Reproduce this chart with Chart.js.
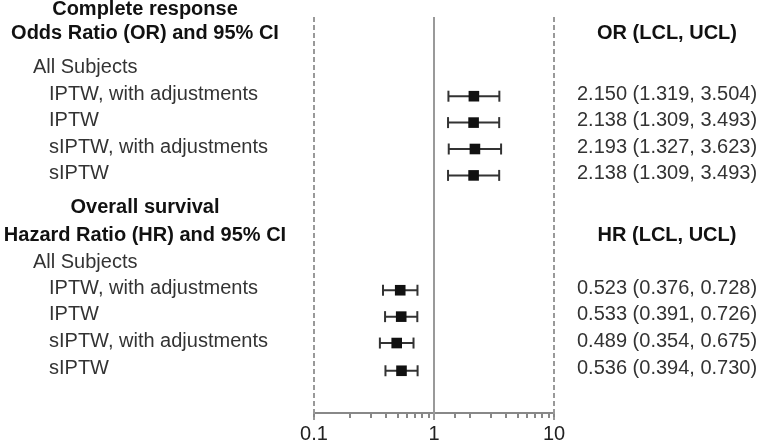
<!DOCTYPE html>
<html lang="en">
<head>
  <meta charset="UTF-8">
  <title>Forest plot</title>
  <script src="https://cdn.jsdelivr.net/npm/chart.js"></script>
  <style>
    body { margin: 0; background: #fff; }
    #wrap { width: 760px; height: 447px; position: relative; }
  </style>
</head>
<body>
  <div id="wrap"><canvas id="forest"></canvas></div>

  <script>
    // Section headings and row labels
    const groups = ['Complete response', 'Overall survival'];
    const measures = ['Odds Ratio (OR) and 95% CI', 'Hazard Ratio (HR) and 95% CI'];
    const columnHeads = ['OR (LCL, UCL)', 'HR (LCL, UCL)'];
    const subgroup = 'All Subjects';
    const methods = ['IPTW, with adjustments', 'IPTW', 'sIPTW, with adjustments', 'sIPTW'];

    // Estimates with 95% CI
    const orEst = [2.150, 2.138, 2.193, 2.138];
    const orLcl = [1.319, 1.309, 1.327, 1.309];
    const orUcl = [3.504, 3.493, 3.623, 3.493];
    const hrEst = [0.523, 0.533, 0.489, 0.536];
    const hrLcl = [0.376, 0.391, 0.354, 0.394];
    const hrUcl = [0.728, 0.726, 0.675, 0.730];

    // Row positions (row units from the top)
    const orRows = [3, 4, 5, 6];
    const hrRows = [10.35, 11.35, 12.35, 13.4];
    const groupRows = [-0.27, 7.23];
    const measureRows = [0.61, 8.26];
    const subgroupRows = [1.93, 9.28];

    // Reference lines and axis labels
    const refLines = [0.1, 1, 10];
    const tickLabels = [0.1, 1, 10];

    const FONT = '"Liberation Sans", Arial, sans-serif';
    const fmt = v => v.toFixed(3);

    // one dataset per confidence interval so each gets its own segment
    const ciSets = [];
    const addCi = (lcl, ucl, rows) => {
      rows.forEach((r, i) => {
        ciSets.push({
          type: 'line',
          data: [{ x: lcl[i], y: r }, { x: ucl[i], y: r }],
          borderColor: '#333',
          borderWidth: 2,
          pointStyle: 'line',
          rotation: 90,
          pointRadius: 5.5,
          pointBorderWidth: 2,
          pointBorderColor: '#333',
          order: 2
        });
      });
    };
    addCi(orLcl, orUcl, orRows);
    addCi(hrLcl, hrUcl, hrRows);

    const estPoints = orEst.map((v, i) => ({ x: v, y: orRows[i] }))
      .concat(hrEst.map((v, i) => ({ x: v, y: hrRows[i] })));

    const forestText = {
      id: 'forestText',
      beforeDatasetsDraw(chart) {
        const { ctx, chartArea, scales: { x } } = chart;
        ctx.save();
        ctx.strokeStyle = '#999';
        ctx.lineWidth = 2;
        refLines.forEach(v => {
          const px = Math.round(x.getPixelForValue(v));
          ctx.setLineDash(v === 1 ? [] : [5, 3]);
          ctx.beginPath();
          ctx.moveTo(px, chartArea.top);
          ctx.lineTo(px, chartArea.bottom + 7);
          ctx.stroke();
        });
        ctx.restore();
      },
      afterDraw(chart) {
        const { ctx, scales: { y } } = chart;
        ctx.save();
        ctx.textBaseline = 'middle';

        // headings
        ctx.fillStyle = '#111';
        ctx.font = 'bold 20px ' + FONT;
        ctx.textAlign = 'center';
        groups.forEach((g, i) => ctx.fillText(g, 145, y.getPixelForValue(groupRows[i])));
        measures.forEach((m, i) => ctx.fillText(m, 145, y.getPixelForValue(measureRows[i])));
        columnHeads.forEach((h, i) => ctx.fillText(h, 667, y.getPixelForValue(measureRows[i])));

        // row labels and values
        ctx.font = '20px ' + FONT;
        ctx.fillStyle = '#333';
        ctx.textAlign = 'left';
        subgroupRows.forEach(r => ctx.fillText(subgroup, 33, y.getPixelForValue(r)));
        const rowText = (rows, est, lcl, ucl) => {
          rows.forEach((r, i) => {
            const py = y.getPixelForValue(r) - 2;
            ctx.fillText(methods[i], 49, py);
            ctx.fillText(fmt(est[i]) + ' (' + fmt(lcl[i]) + ', ' + fmt(ucl[i]) + ')', 577, py);
          });
        };
        rowText(orRows, orEst, orLcl, orUcl);
        rowText(hrRows, hrEst, hrLcl, hrUcl);
        ctx.restore();
      }
    };

    const ctx = document.getElementById('forest').getContext('2d');
    new Chart(ctx, {
      type: 'scatter',
      data: {
        datasets: [{
          data: estPoints,
          pointStyle: 'rect',
          pointRadius: 7.5,
          pointHoverRadius: 7.5,
          backgroundColor: '#111',
          borderColor: '#111',
          borderWidth: 0,
          order: 1
        }].concat(ciSets)
      },
      options: {
        responsive: true,
        maintainAspectRatio: false,
        animation: false,
        events: [],
        layout: { padding: { left: 314, right: 206, top: 17, bottom: 0 } },
        scales: {
          x: {
            type: 'logarithmic',
            min: 0.1,
            max: 10,
            afterFit: s => { s.height = 34; },
            border: { display: true, color: '#888', width: 2 },
            grid: { drawOnChartArea: false, drawTicks: true, tickLength: 5, color: '#888', lineWidth: 2 },
            ticks: {
              autoSkip: false,
              maxRotation: 0,
              padding: 4,
              color: '#222',
              font: { family: FONT, size: 20 },
              callback: v => tickLabels.includes(Number(v)) ? String(Number(v)) : ''
            }
          },
          y: {
            type: 'linear',
            reverse: true,
            min: 0,
            max: 15,
            display: false
          }
        },
        plugins: {
          legend: { display: false },
          tooltip: { enabled: false }
        }
      },
      plugins: [forestText]
    });
  </script>
</body>
</html>
